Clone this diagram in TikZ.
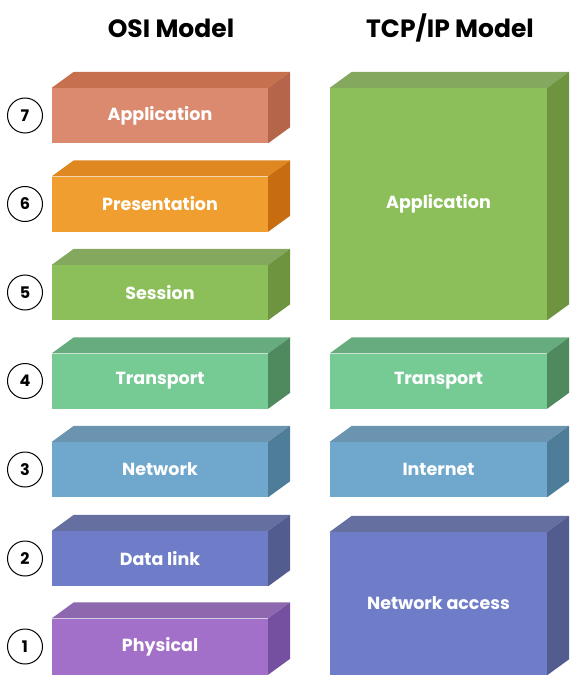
\documentclass[tikz,border=0pt]{standalone}
\usepackage{fontspec}
\setmainfont{Poppins}[BoldFont={* Bold}]
\definecolor{f7}{HTML}{DB8A6F}\definecolor{t7}{HTML}{C6704D}\definecolor{s7}{HTML}{B5664A}
\definecolor{f6}{HTML}{F09E30}\definecolor{t6}{HTML}{DF8720}\definecolor{s6}{HTML}{C76C10}
\definecolor{f5}{HTML}{8CBF5A}\definecolor{t5}{HTML}{84A85E}\definecolor{s5}{HTML}{6E9440}
\definecolor{f4}{HTML}{76CB94}\definecolor{t4}{HTML}{67AC7E}\definecolor{s4}{HTML}{4F8A5F}
\definecolor{f3}{HTML}{6FA7CD}\definecolor{t3}{HTML}{6A94B0}\definecolor{s3}{HTML}{4D7D99}
\definecolor{f2}{HTML}{6F7DC8}\definecolor{t2}{HTML}{6670A0}\definecolor{s2}{HTML}{525C8E}
\definecolor{f1}{HTML}{A270C8}\definecolor{t1}{HTML}{8E68AE}\definecolor{s1}{HTML}{7650A0}
\newcommand{\mylayer}[8]{%
  % #1 name, #2 cx, #3 cy, #4 w, #5 h, #6 colour suffix, #7 text
  \node[frontface, fill=f#6, minimum width=#4pt, minimum height=#5pt] (#1) at (#2,#3) {#7};
  \fill[t#6] (#1.north west) -- ++(22,-16) -- ([xshift=22pt,yshift=16pt]#1.north east) -- (#1.north east) -- cycle;
  \fill[s#6] (#1.north east) -- ++(22,-16) -- ([xshift=22pt,yshift=16pt]#1.south east) -- (#1.south east) -- cycle;
  #8}
\begin{document}
\begin{tikzpicture}[x=1pt,y=-1pt,
  frontface/.style={inner sep=0pt, text=white, font=\bfseries\fontsize{17.5}{20}\selectfont},
  numc/.style={circle, draw=black, line width=1pt, minimum size=35pt, inner sep=0pt, font=\bfseries\fontsize{16}{18}\selectfont},
  title/.style={font=\bfseries\fontsize{25}{28}\selectfont}]
\useasboundingbox (0,0) rectangle (588,687);
\node[title] (osit) at (171,28) {OSI Model};
\node[title] (tcpt) at (450,28) {TCP/IP Model};
\mylayer{o7}{160}{115.5}{216}{55}{7}{Application}{}
\mylayer{o6}{160}{204}{216}{55}{6}{Presentation}{}
\mylayer{o5}{160}{292.5}{216}{55}{5}{Session}{}
\mylayer{o4}{160}{381}{216}{55}{4}{Transport}{}
\mylayer{o3}{160}{469.5}{216}{55}{3}{Network}{}
\mylayer{o2}{160}{558.5}{216}{55}{2}{Data link}{}
\mylayer{o1}{160}{646.5}{216}{56}{1}{Physical}{}
\mylayer{tapp}{438.5}{204}{217}{232}{5}{Application}{}
\mylayer{ttr}{438.5}{381}{217}{55}{4}{Transport}{}
\mylayer{tin}{438.5}{469.5}{217}{55}{3}{Internet}{}
\mylayer{tna}{438.5}{603.5}{217}{143}{2}{Network access}{}
\node[numc] (n7) at (25,115.5) {7};
\node[numc] (n6) at (25,204) {6};
\node[numc] (n5) at (25,292.5) {5};
\node[numc] (n4) at (25,381) {4};
\node[numc] (n3) at (25,469.5) {3};
\node[numc] (n2) at (25,558.5) {2};
\node[numc] (n1) at (25,646.5) {1};
\end{tikzpicture}
\end{document}
